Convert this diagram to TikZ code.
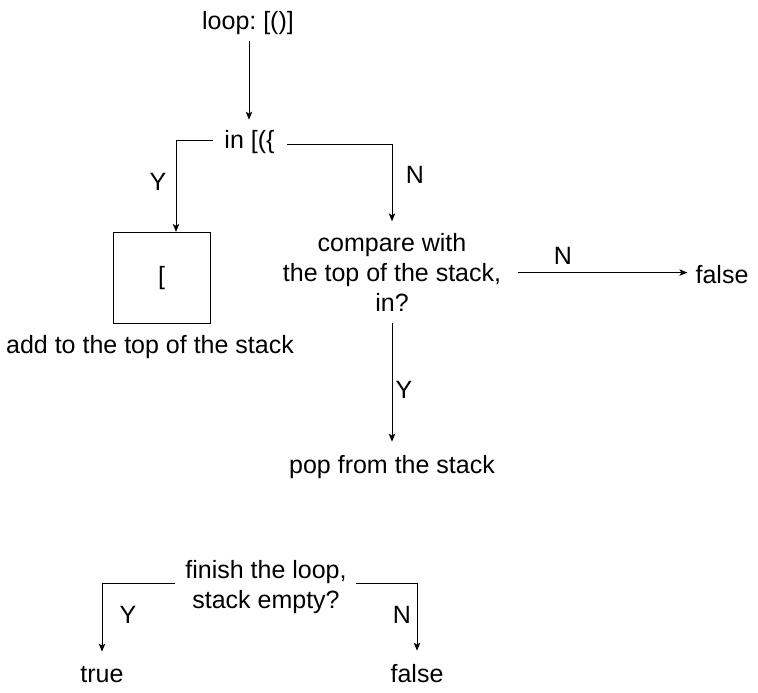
\documentclass[tikz,border=0pt]{standalone}
\usepackage{fontspec}
\setmainfont{Liberation Sans}
\usetikzlibrary{arrows.meta}
\frenchspacing
\begin{document}
\begin{tikzpicture}[x=1pt,y=-1pt,
  font=\fontsize{25}{30}\selectfont,
  txt/.style={inner sep=0pt, align=center},
  arr/.style={-{Stealth[length=8pt,width=6.5pt,inset=2pt]}, line width=0.9pt},
  ln/.style={line width=0.9pt}]
\useasboundingbox (0,0) rectangle (758,693);
% nodes
\node[txt, anchor=base] (loop) at (248,29.5) {loop: [()]};
\node[txt, anchor=base] (in) at (249.5,148) {in [(\{};
\node[draw, line width=0.9pt, minimum width=97pt, minimum height=91pt, inner sep=0pt] (box) at (161.7,277.8) {\raisebox{-2pt}{[}};
\node[txt, anchor=base] (addlbl) at (150,353) {add to the top of the stack};
\node[txt] (cmp) at (392,272.6) {compare with\\the top of the stack,\\in?};
\node[txt, anchor=base] (false1) at (722,283) {false};
\node[txt, anchor=base] (pop) at (392,473) {pop from the stack};
\node[txt] (fin) at (266,587) {finish the loop,\\stack empty?};
\node[txt, anchor=base] (true) at (102,682) {true};
\node[txt, anchor=base] (false2) at (417,682) {false};
% labels
\node[txt, anchor=base] (y1) at (158,190) {Y};
\node[txt, anchor=base] (n1) at (415,183) {N};
\node[txt, anchor=base] (n2) at (563,264) {N};
\node[txt, anchor=base] (y2) at (404,398) {Y};
\node[txt, anchor=base] (y3) at (128,623) {Y};
\node[txt, anchor=base] (n3) at (402,623) {N};
% connectors
\draw[arr] ([xshift=1pt,yshift=-6.5pt]loop.south) -- ([xshift=-0.5pt,yshift=10pt]in.north);
\draw[arr] ([xshift=-11.5pt,yshift=1pt]in.west) -| ([xshift=14.3pt]box.north);
\draw[arr] ([xshift=12.5pt,yshift=-2.5pt]in.east) -| ([yshift=12pt]cmp.north);
\draw[arr] ([xshift=17pt]cmp.east) -- ([xshift=-8pt]cmp.east -| false1.west);
\draw[arr] ([yshift=-11.5pt]cmp.south) -- ([yshift=13pt]pop.north);
\draw[arr] ([xshift=-10.5pt,yshift=4pt]fin.west) -| ([yshift=14pt]true.north);
\draw[arr] ([xshift=9.5pt,yshift=4pt]fin.east) -| ([yshift=13pt]false2.north);
\end{tikzpicture}
\end{document}
